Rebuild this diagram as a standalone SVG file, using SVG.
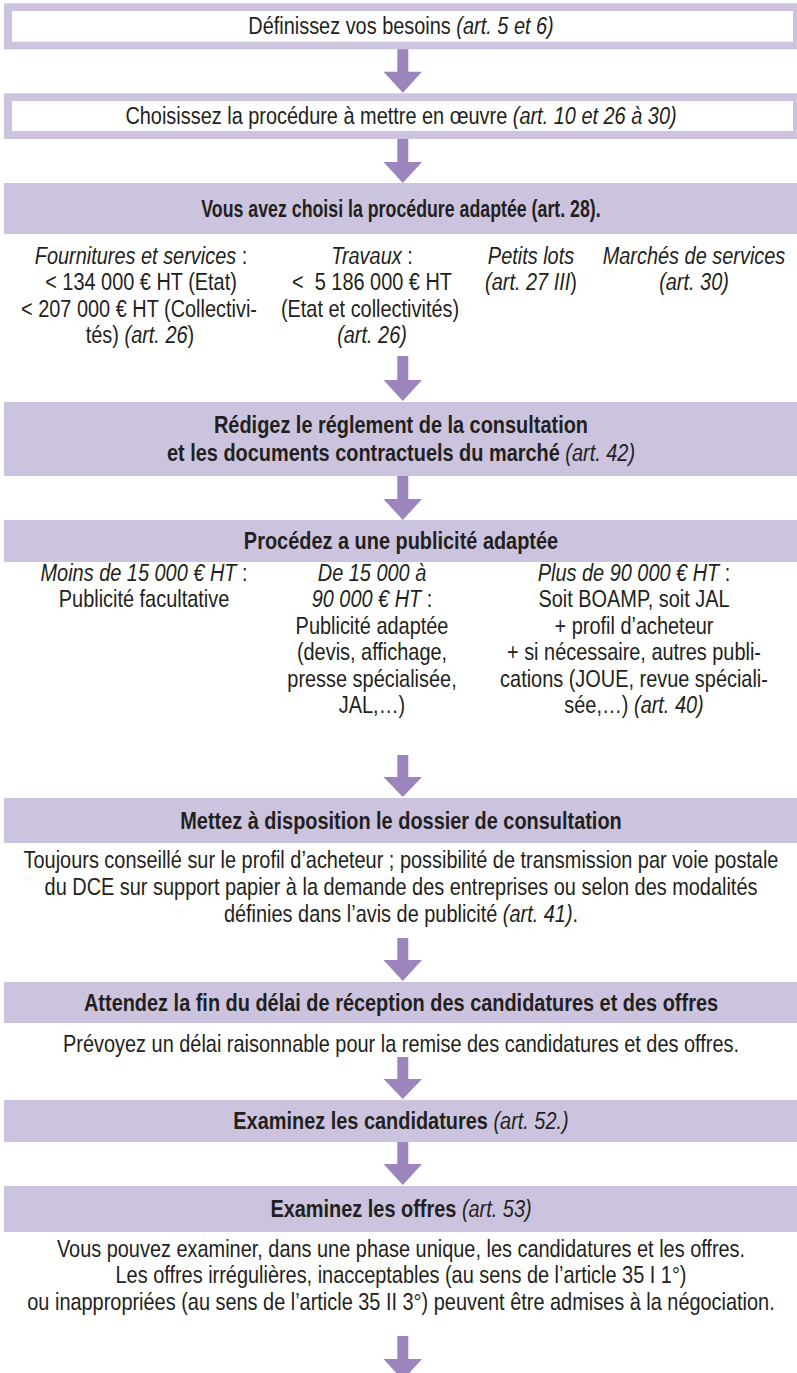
<svg xmlns="http://www.w3.org/2000/svg" width="797" height="1373" viewBox="0 0 797 1373">
<style>
.fill{fill:#CCC4DF}
.inner{fill:#FFFFFF}
.arr{fill:#9B85BC}
text{font-family:"Liberation Sans",Arial,sans-serif;font-size:24px;fill:#231F20;text-anchor:middle}
.b{font-weight:bold}
.i{font-style:italic;font-weight:normal}
</style>
<rect width="797" height="1373" fill="#FFFFFF"/>
<g id="connectors">
<path class="arr" d="M397.3,49 H408.3 V71.7 H422 L402.8,92.7 L383.5,71.7 H397.3 Z"/>
<path class="arr" d="M397.3,139 H408.3 V162 H422 L402.8,183 L383.5,162 H397.3 Z"/>
<path class="arr" d="M397.3,356 H408.3 V380 H422 L402.8,401 L383.5,380 H397.3 Z"/>
<path class="arr" d="M397.3,476 H408.3 V499 H422 L402.8,520 L383.5,499 H397.3 Z"/>
<path class="arr" d="M397.3,755 H408.3 V777 H422 L402.8,797 L383.5,777 H397.3 Z"/>
<path class="arr" d="M397.3,938 H408.3 V960 H422 L402.8,981 L383.5,960 H397.3 Z"/>
<path class="arr" d="M397.3,1057 H408.3 V1079 H422 L402.8,1099 L383.5,1079 H397.3 Z"/>
<path class="arr" d="M397.3,1142 H408.3 V1164 H422 L402.8,1185 L383.5,1164 H397.3 Z"/>
<path class="arr" d="M397.3,1336 H408.3 V1359 H422 L402.8,1380 L383.5,1359 H397.3 Z"/>
</g>
<g id="n1">
<rect class="fill" x="4" y="3.3" width="797" height="46"/>
<rect class="inner" x="12" y="11" width="781" height="30.7"/>
<text transform="matrix(0.83 0 0 1 401 0)" x="0" y="34.5">Définissez vos besoins <tspan class="i">(art. 5 et 6)</tspan></text>
</g>
<g id="n2">
<rect class="fill" x="4" y="93.3" width="797" height="45.7"/>
<rect class="inner" x="12" y="101" width="781" height="30"/>
<text transform="matrix(0.83 0 0 1 401 0)" x="0" y="124.5">Choisissez la procédure à mettre en œuvre <tspan class="i">(art. 10 et 26 à 30)</tspan></text>
</g>
<g id="n3">
<rect class="fill" x="4" y="183" width="797" height="51"/>
<text class="b" transform="matrix(0.74 0 0 1 401 0)" x="0" y="217">Vous avez choisi la procédure adaptée (art. 28).</text>
</g>
<g id="n3-fournitures">
<text transform="matrix(0.83 0 0 1 141 0)" x="0" y="264"><tspan class="i">Fournitures et services</tspan> :</text>
<text transform="matrix(0.83 0 0 1 141 0)" x="0" y="290.5">&lt; 134 000 € HT (Etat)</text>
<text transform="matrix(0.83 0 0 1 139 0)" x="0" y="317">&lt; 207 000 € HT (Collectivi-</text>
<text transform="matrix(0.83 0 0 1 140 0)" x="0" y="343.5">tés) <tspan class="i">(art. 26</tspan>)</text>
</g>
<g id="n3-travaux">
<text transform="matrix(0.83 0 0 1 372 0)" x="0" y="264"><tspan class="i">Travaux</tspan> :</text>
<text transform="matrix(0.83 0 0 1 372 0)" x="0" y="290.5">&lt;&#160; 5 186 000 € HT</text>
<text transform="matrix(0.83 0 0 1 370 0)" x="0" y="317">(Etat et collectivités)</text>
<text transform="matrix(0.83 0 0 1 372 0)" x="0" y="343.5" class="i">(art. 26)</text>
</g>
<g id="n3-petits-lots">
<text transform="matrix(0.83 0 0 1 531 0)" x="0" y="264" class="i">Petits lots</text>
<text transform="matrix(0.83 0 0 1 531 0)" x="0" y="290.5"><tspan class="i">(art. 27 III</tspan>)</text>
</g>
<g id="n3-services">
<text transform="matrix(0.83 0 0 1 694 0)" x="0" y="264" class="i">Marchés de services</text>
<text transform="matrix(0.83 0 0 1 694 0)" x="0" y="290.5" class="i">(art. 30)</text>
</g>
<g id="n4">
<rect class="fill" x="4" y="402" width="797" height="74"/>
<text class="b" transform="matrix(0.83 0 0 1 401 0)" x="0" y="433">Rédigez le réglement de la consultation</text>
<text class="b" transform="matrix(0.83 0 0 1 401 0)" x="0" y="461">et les documents contractuels du marché <tspan class="i">(art. 42)</tspan></text>
</g>
<g id="n5">
<rect class="fill" x="4" y="520" width="797" height="42"/>
<text class="b" transform="matrix(0.83 0 0 1 401 0)" x="0" y="549">Procédez a une publicité adaptée</text>
</g>
<g id="n5-moins">
<text transform="matrix(0.83 0 0 1 144 0)" x="0" y="581"><tspan class="i">Moins de 15 000 € HT</tspan> :</text>
<text transform="matrix(0.83 0 0 1 144 0)" x="0" y="607.5">Publicité facultative</text>
</g>
<g id="n5-de">
<text transform="matrix(0.83 0 0 1 372 0)" x="0" y="581" class="i">De 15 000 à</text>
<text transform="matrix(0.83 0 0 1 372 0)" x="0" y="607.5"><tspan class="i">90 000 € HT</tspan> :</text>
<text transform="matrix(0.83 0 0 1 372 0)" x="0" y="634">Publicité adaptée</text>
<text transform="matrix(0.83 0 0 1 372 0)" x="0" y="660.5">(devis, affichage,</text>
<text transform="matrix(0.83 0 0 1 372 0)" x="0" y="687">presse spécialisée,</text>
<text transform="matrix(0.83 0 0 1 372 0)" x="0" y="713.5">JAL,…)</text>
</g>
<g id="n5-plus">
<text transform="matrix(0.83 0 0 1 634 0)" x="0" y="581"><tspan class="i">Plus de 90 000 € HT</tspan> :</text>
<text transform="matrix(0.83 0 0 1 634 0)" x="0" y="607.5">Soit BOAMP, soit JAL</text>
<text transform="matrix(0.83 0 0 1 634 0)" x="0" y="634">+ profil d’acheteur</text>
<text transform="matrix(0.83 0 0 1 634 0)" x="0" y="660.5">+ si nécessaire, autres publi-</text>
<text transform="matrix(0.83 0 0 1 634 0)" x="0" y="687">cations (JOUE, revue spéciali-</text>
<text transform="matrix(0.83 0 0 1 634 0)" x="0" y="713.5">sée,…) <tspan class="i">(art. 40)</tspan></text>
</g>
<g id="n6">
<rect class="fill" x="4" y="798" width="797" height="45"/>
<text class="b" transform="matrix(0.83 0 0 1 401 0)" x="0" y="829">Mettez à disposition le dossier de consultation</text>
<text transform="matrix(0.83 0 0 1 401 0)" x="0" y="868">Toujours conseillé sur le profil d’acheteur ; possibilité de transmission par voie postale</text>
<text transform="matrix(0.83 0 0 1 401 0)" x="0" y="895">du DCE sur support papier à la demande des entreprises ou selon des modalités</text>
<text transform="matrix(0.83 0 0 1 401 0)" x="0" y="922">définies dans l’avis de publicité <tspan class="i">(art. 41)</tspan>.</text>
</g>
<g id="n7">
<rect class="fill" x="4" y="982" width="797" height="41"/>
<text class="b" transform="matrix(0.83 0 0 1 401 0)" x="0" y="1011">Attendez la fin du délai de réception des candidatures et des offres</text>
<text transform="matrix(0.83 0 0 1 401 0)" x="0" y="1052">Prévoyez un délai raisonnable pour la remise des candidatures et des offres.</text>
</g>
<g id="n8">
<rect class="fill" x="4" y="1100" width="797" height="42"/>
<text class="b" transform="matrix(0.83 0 0 1 401 0)" x="0" y="1129">Examinez les candidatures <tspan class="i">(art. 52.)</tspan></text>
</g>
<g id="n9">
<rect class="fill" x="4" y="1186" width="797" height="46"/>
<text class="b" transform="matrix(0.83 0 0 1 401 0)" x="0" y="1217">Examinez les offres <tspan class="i">(art. 53)</tspan></text>
<text transform="matrix(0.83 0 0 1 401 0)" x="0" y="1257">Vous pouvez examiner, dans une phase unique, les candidatures et les offres.</text>
<text transform="matrix(0.83 0 0 1 401 0)" x="0" y="1283">Les offres irrégulières, inacceptables (au sens de l’article 35 I 1°)</text>
<text transform="matrix(0.83 0 0 1 401 0)" x="0" y="1310">ou inappropriées (au sens de l’article 35 II 3°) peuvent être admises à la négociation.</text>
</g>
</svg>
